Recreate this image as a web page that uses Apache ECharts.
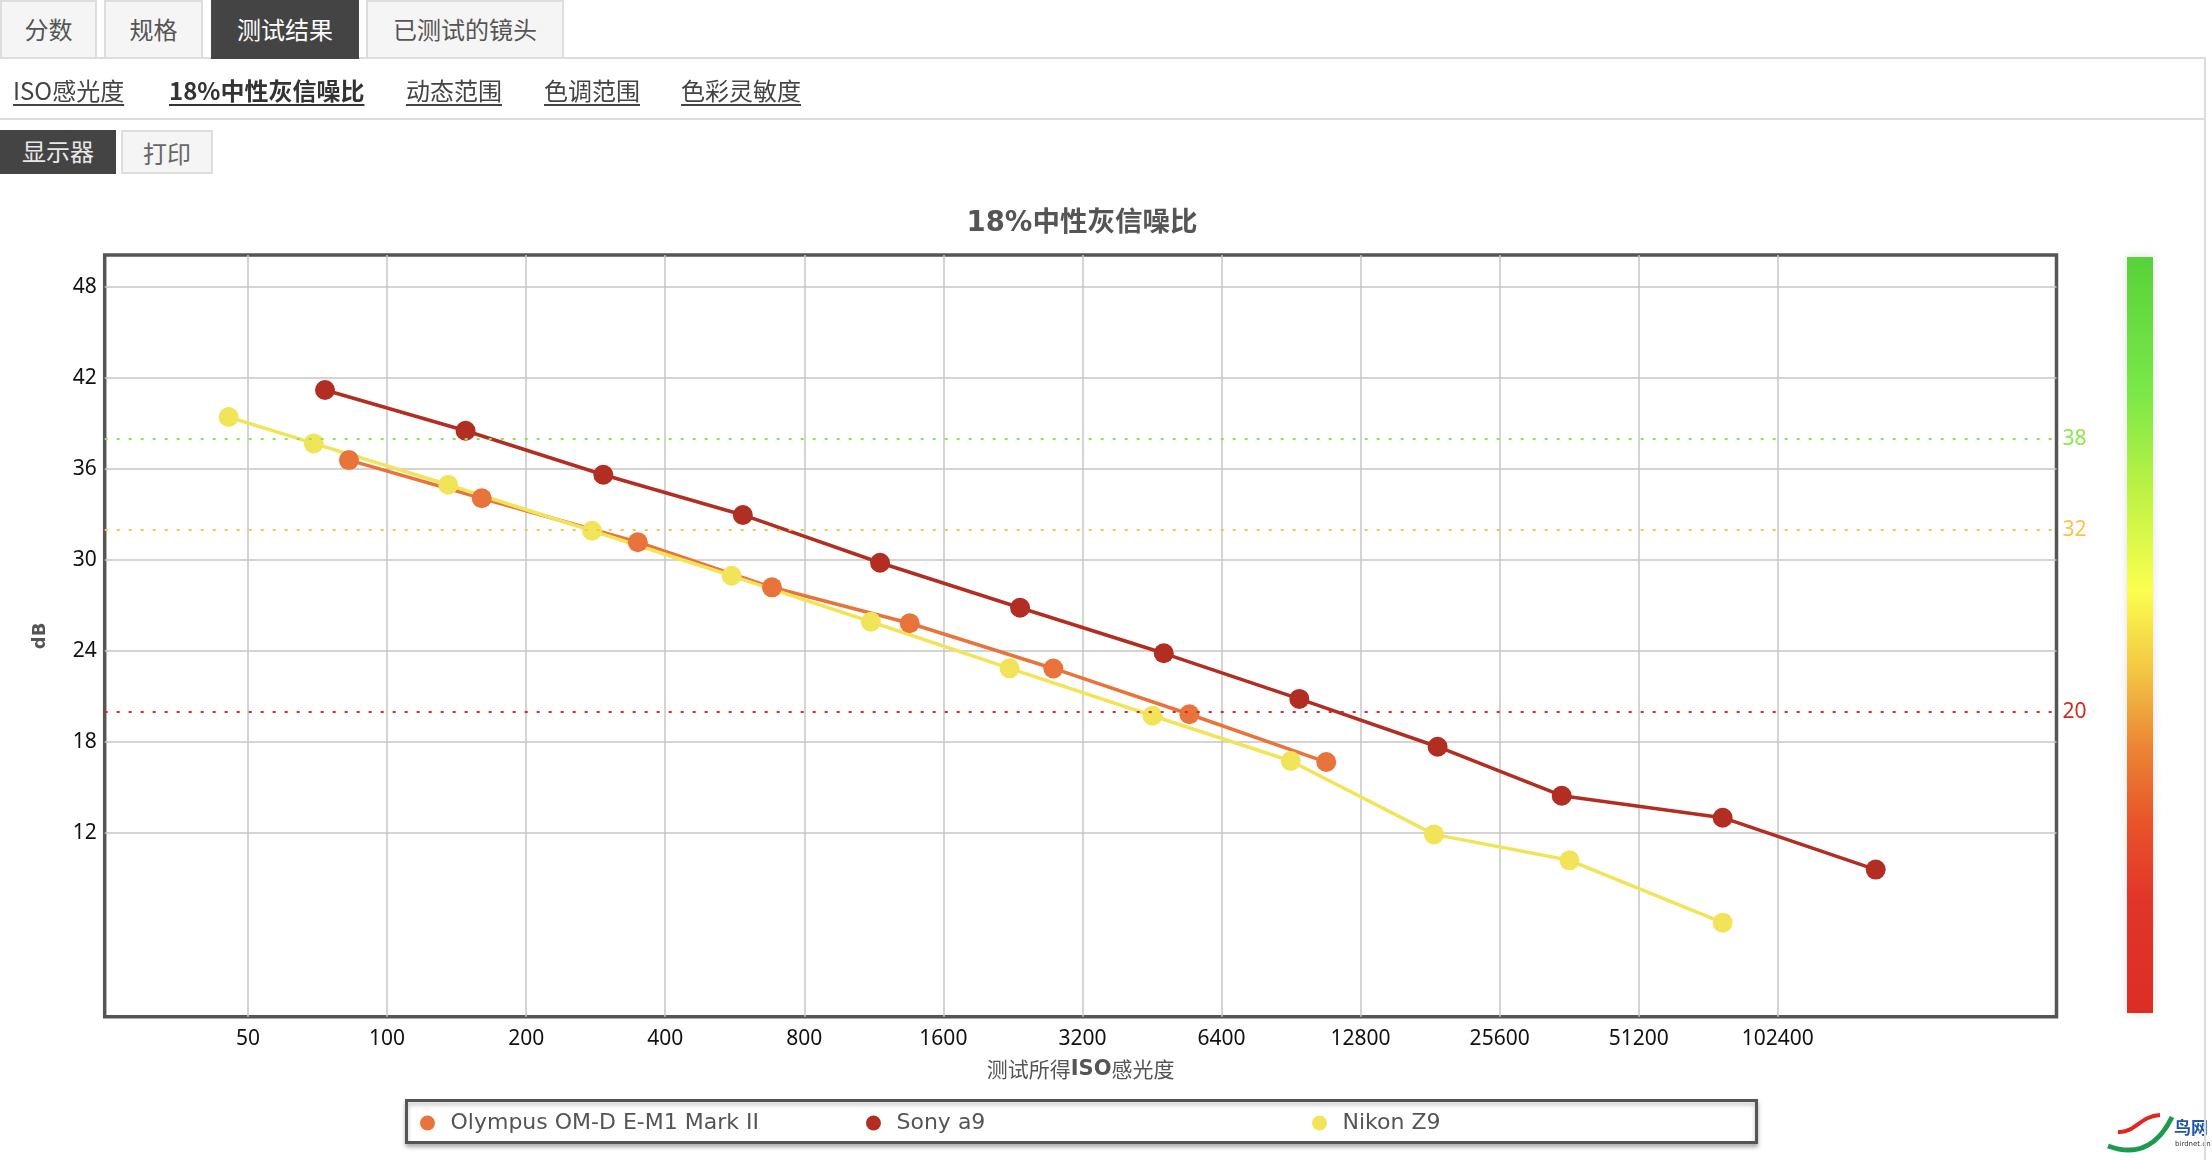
<!DOCTYPE html>
<html>
<head>
<meta charset="utf-8">
<script src="https://cdn.jsdelivr.net/npm/echarts@6/dist/echarts.min.js"></script>
<style>
html, body { margin: 0; padding: 0; background: #fff; }
body { width: 2212px; height: 1160px; position: relative; overflow: hidden;
       font-family: "Noto Sans CJK SC", "Noto Sans", sans-serif; }
#chart { position: absolute; left: 0; top: 0; width: 2212px; height: 1160px; }
.tab { position: absolute; top: 0; height: 57px; box-sizing: border-box; background: #f5f5f5;
       border: 2px solid #ddd; border-bottom: none; color: #555; font-size: 24px;
       line-height: 54px; text-align: center; z-index: 3; }
.tab.on { background: #444; color: #fff; border: none; height: 59px; line-height: 58px; }
.rule { position: absolute; background: #ddd; z-index: 2; }
.link { position: absolute; top: 73px; font-size: 24px; line-height: 34px; color: #444;
        text-decoration: underline; text-underline-offset: 4px; z-index: 2; }
.link.on { font-weight: bold; color: #333; }
.btn { position: absolute; top: 130px; height: 44px; box-sizing: border-box; font-size: 24px;
       line-height: 41px; text-align: center; z-index: 2; }
</style>
</head>
<body>
<div id="chart"></div>

<div class="tab" style="left:0;width:97px;">分数</div>
<div class="tab" style="left:104px;width:99px;">规格</div>
<div class="tab on" style="left:211px;width:148px;">测试结果</div>
<div class="tab" style="left:366px;width:198px;">已测试的镜头</div>
<div class="rule" style="left:0;top:57px;width:2206px;height:2px;"></div>

<div class="link" style="left:13px;">ISO感光度</div>
<div class="link on" style="left:169px;">18%中性灰信噪比</div>
<div class="link" style="left:406px;">动态范围</div>
<div class="link" style="left:544px;">色调范围</div>
<div class="link" style="left:681px;">色彩灵敏度</div>
<div class="rule" style="left:0;top:118px;width:2206px;height:2px;"></div>

<div class="btn" style="left:0;width:116px;background:#444;color:#e8e8e8;">显示器</div>
<div class="btn" style="left:121px;width:92px;background:#f5f5f5;border:2px solid #ddd;color:#666;">打印</div>

<div class="rule" style="left:2204px;top:57px;width:2px;height:1103px;"></div>

<script>
var myChart = echarts.init(document.getElementById('chart'));

// 测试所得ISO感光度 / 信噪比(dB)
var olympusIso = [82.7, 160.3, 349, 681, 1353, 2768, 5453, 10786];
var olympusDb  = [36.59, 34.07, 31.17, 28.2, 25.83, 22.85, 19.83, 16.68];

var sonyIso = [73.4, 147.9, 293.8, 589, 1167, 2345, 4800, 9432, 18790, 34880, 77800, 166800];
var sonyDb  = [41.21, 38.52, 35.62, 32.97, 29.82, 26.85, 23.85, 20.84, 17.69, 14.46, 13.01, 9.59];

var nikonIso = [45.4, 69.4, 135.6, 277.7, 557, 1115, 2226, 4538, 9040, 18460, 36260, 77800];
var nikonDb  = [39.43, 37.69, 34.96, 31.93, 28.96, 25.93, 22.86, 19.73, 16.75, 11.91, 10.2, 6.09];

// 坐标轴刻度
var isoTicks = [50, 100, 200, 400, 800, 1600, 3200, 6400, 12800, 25600, 51200, 102400];
var dbTicks = [12, 18, 24, 30, 36, 42, 48];

// 参考线 38 / 32 / 20
var refValues = [38, 32, 20];
var refColors = ['#8ae84a', '#f5c543', '#d42a22'];

var names = ['Olympus OM-D E-M1 Mark II', 'Sony a9', 'Nikon Z9'];
var colors = ['#e8743b', '#b22d22', '#f2e459'];

function pairs(iso, db) {
    return iso.map(function (v, i) { return [Math.log2(v), db[i]]; });
}

var xMin = Math.log2(50) - 1.0304;
var xMax = Math.log2(50) + 13.004;

var lineSeries = [
    pairs(olympusIso, olympusDb),
    pairs(sonyIso, sonyDb),
    pairs(nikonIso, nikonDb)
].map(function (d, i) {
    return {
        name: names[i],
        type: 'line',
        data: d,
        symbol: 'circle',
        symbolSize: 20,
        lineStyle: { width: 3.5, color: colors[i] },
        itemStyle: { color: colors[i] }
    };
});

// 参考线放在最底层
var refSeries = {
    type: 'line',
    data: [],
    silent: true,
    markLine: {
        symbol: 'none',
        silent: true,
        data: refValues.map(function (v, i) {
            return {
                yAxis: v,
                lineStyle: { color: refColors[i], type: [3, 9], width: 2.2 },
                label: {
                    position: 'end', distance: 6, formatter: String(v),
                    color: refColors[i], fontSize: 21, fontFamily: 'Noto Sans'
                }
            };
        })
    }
};

var labelFont = { fontSize: 21, color: '#111', fontFamily: 'Noto Sans' };

// 图例三项等距排列，每项一个 legend
var legendLeft = [420, 866, 1312];
var legends = names.map(function (n, i) {
    return {
        data: [n],
        left: legendLeft[i], top: 1112,
        itemWidth: 36, itemHeight: 15,
        icon: 'circle',
        padding: 0,
        textStyle: { fontFamily: 'DejaVu Sans', fontSize: 22, color: '#555' }
    };
});

var option = {
    animation: false,
    backgroundColor: '#fff',
    title: {
        text: '18%中性灰信噪比',
        left: 1077,
        top: 205,
        textAlign: 'center',
        textStyle: { fontFamily: 'DejaVu Sans, Noto Sans CJK SC', fontSize: 27.5, fontWeight: 'bold', color: '#555' }
    },
    grid: {
        left: 104.7, top: 255, width: 1951.8, height: 761.7,
        show: true, borderColor: '#555', borderWidth: 3.5, backgroundColor: 'transparent'
    },
    legend: legends,
    xAxis: {
        type: 'value',
        min: xMin, max: xMax,
        name: '{a|测试所得}{b|ISO}{a|感光度}',
        nameLocation: 'middle',
        nameGap: 42,
        nameTextStyle: {
            rich: {
                a: { fontSize: 21, color: '#555', fontFamily: 'Noto Sans CJK SC' },
                b: { fontSize: 21, color: '#555', fontWeight: 'bold', fontFamily: 'DejaVu Sans' }
            }
        },
        axisLine: { show: false },
        axisTick: { show: false, customValues: isoTicks.map(Math.log2) },
        axisLabel: Object.assign({
            margin: 12,
            customValues: isoTicks.map(Math.log2),
            formatter: function (v) { return String(Math.round(Math.pow(2, v))); }
        }, labelFont),
        splitLine: { show: true, lineStyle: { color: '#c6c6c6', width: 1.5 } }
    },
    yAxis: {
        type: 'value',
        min: -0.11, max: 50.11,
        name: 'dB',
        nameLocation: 'middle',
        nameGap: 55,
        nameTextStyle: { fontFamily: 'DejaVu Sans', fontSize: 18, fontWeight: 'bold', color: '#555' },
        axisLine: { show: false },
        axisTick: { show: false, customValues: dbTicks },
        axisLabel: Object.assign({ margin: 8, customValues: dbTicks }, labelFont),
        splitLine: { show: true, lineStyle: { color: '#c6c6c6', width: 1.5 } }
    },
    graphic: [
        {
            // 图例外框
            type: 'rect',
            z: 1,
            shape: { x: 406.5, y: 1100.5, width: 1350, height: 42 },
            style: {
                fill: '#fff', stroke: '#555', lineWidth: 3,
                shadowColor: 'rgba(0,0,0,0.25)', shadowBlur: 4, shadowOffsetY: 3
            }
        },
        {
            // 右侧色阶条
            type: 'rect',
            shape: { x: 2127, y: 257, width: 26, height: 756 },
            style: {
                fill: new echarts.graphic.LinearGradient(0, 0, 0, 1, [
                    { offset: 0, color: '#58d23a' },
                    { offset: 0.18, color: '#7ae848' },
                    { offset: 0.31, color: '#bdf244' },
                    { offset: 0.44, color: '#fbff4e' },
                    { offset: 0.55, color: '#f3c444' },
                    { offset: 0.65, color: '#eb8434' },
                    { offset: 0.75, color: '#e8532a' },
                    { offset: 0.85, color: '#e2352a' },
                    { offset: 1, color: '#dc2e24' }
                ]),
                shadowBlur: 10, shadowColor: 'rgba(0,0,0,0.12)'
            }
        },
        {
            // 水印
            type: 'group',
            children: [
                { type: 'bezierCurve', shape: { x1: 2118, y1: 1132, cpx1: 2135, cpy1: 1133, cpx2: 2140, cpy2: 1116, x2: 2160, y2: 1115 },
                  style: { stroke: '#e0261f', lineWidth: 4, fill: null } },
                { type: 'bezierCurve', shape: { x1: 2108, y1: 1146, cpx1: 2140, cpy1: 1158, cpx2: 2160, cpy2: 1142, x2: 2172, y2: 1117 },
                  style: { stroke: '#1d9b4c', lineWidth: 5, fill: null } },
                { type: 'text', x: 2174, y: 1119,
                  style: { text: '鸟网', fontSize: 17, fontWeight: 'bold', fill: '#1f56a8', fontFamily: 'Noto Sans CJK SC' } },
                { type: 'text', x: 2175, y: 1141,
                  style: { text: 'birdnet.cn', fontSize: 7, fill: '#333', fontFamily: 'DejaVu Sans' } }
            ]
        }
    ],
    series: [refSeries].concat(lineSeries)
};

myChart.setOption(option);
</script>
</body>
</html>
